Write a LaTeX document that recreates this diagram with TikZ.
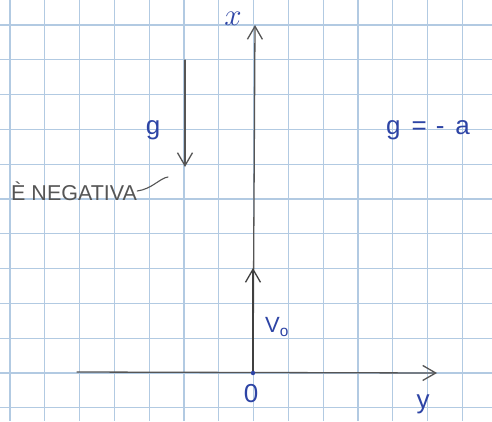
\documentclass[tikz,border=0pt]{standalone}
\usepackage{fontspec}
\setmainfont{Liberation Sans}
\usetikzlibrary{arrows.meta}
\definecolor{gridblue}{RGB}{178,202,226}
\definecolor{ink}{RGB}{45,68,165}
\definecolor{pencil}{RGB}{85,85,85}
\tikzset{
  gridline/.style={draw=gridblue, line width=1.3pt},
  pen/.style={draw=pencil, line width=1.3pt, line cap=round},
  barb/.style={-{Straight Barb[length=13pt,width=15pt,line width=1.3pt]}},
  bluelabel/.style={text=ink, inner sep=0pt, font=\fontsize{26}{26}\selectfont},
  graylabel/.style={text=pencil, inner sep=0pt, font=\fontsize{21.5}{21.5}\selectfont}
}
\begin{document}
\begin{tikzpicture}[x=1pt,y=-1pt]
\useasboundingbox (0,0) rectangle (492,421);
\fill[white] (0,0) rectangle (492,421);
% graph paper
\foreach \k in {0,...,13} {
  \draw[gridline] ({10+34.8*\k},0) -- ({10+34.8*\k},421);
}
\foreach \k in {0,...,11} {
  \draw[gridline] (0,{25+34.8*\k}) -- (492,{25+34.8*\k});
}
% coordinates
\coordinate (O) at (253,373);
\coordinate (xtop) at (255,25);
\coordinate (yleft) at (77,372);
\coordinate (yright) at (437,373);
\coordinate (vtip) at (253,268);
\coordinate (gstart) at (185,60);
\coordinate (gend) at (185,167);
% axes
\draw[pen, barb] (O) -- (xtop);
\draw[pen, barb] (yleft) -- (yright);
% v0 vector
\draw[pen, barb, draw=black!75, line width=1.6pt] (O) -- (vtip);
% g vector
\draw[pen, barb] (gstart) -- (gend);
% origin dot
\fill[ink] (O) circle (2.2);
% labels
\node[bluelabel, scale=1.25] (xlab) at (233,19) {$x$};
\node[bluelabel] (ylab) at (423,404) {y};
\node[bluelabel] (olab) at (251,394) {0};
\node[bluelabel, anchor=west, font=\fontsize{22}{22}\selectfont] (vlab) at (265,327) {V\textsubscript{o}};
\node[bluelabel] (glab) at (153,130) {g};
\node[bluelabel, anchor=west] (geq) at (386,130) {g\hspace{11pt}=\hspace{9pt}-\hspace{11pt}a};
\node[graylabel, anchor=west] (neg) at (11,191) {È NEGATIVA};
\coordinate (tail) at (168,177);
\draw[pen, line width=1.1pt] (neg.east) .. controls (152,189) and (160,178) .. (tail);
\end{tikzpicture}
\end{document}
